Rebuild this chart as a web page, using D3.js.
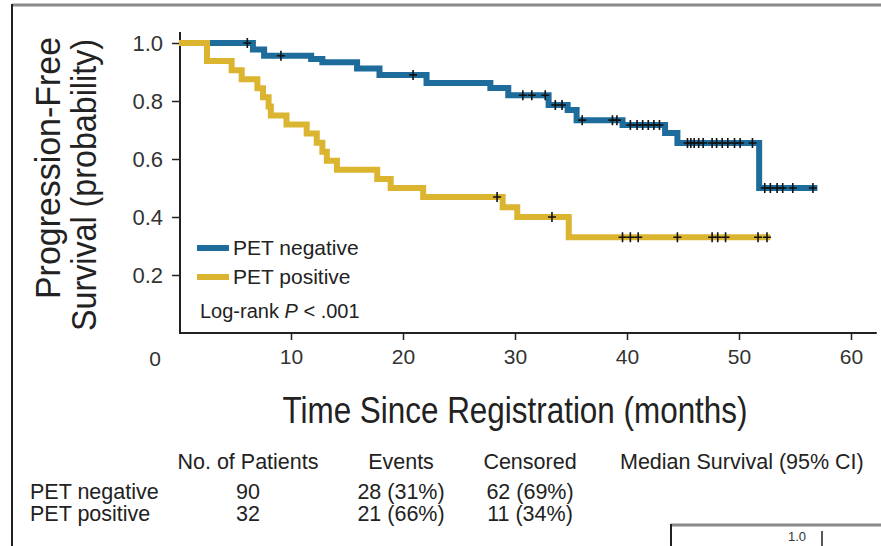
<!DOCTYPE html>
<html lang="en">
<head>
  <meta charset="UTF-8" />
  <title>Progression-Free Survival by PET status</title>
  <script src="https://cdn.jsdelivr.net/npm/d3@7"></script>
  <style>
    body { margin: 0; background: #fff; }
    svg { display: block; font-family: "Liberation Sans", Arial, sans-serif; }
    .tick text { fill: #333; }
  </style>
</head>
<body>
<svg width="881" height="546"></svg>

<script>
  // tick labels
  const monthTicks = [10, 20, 30, 40, 50, 60];
  const probTicks = [0.2, 0.4, 0.6, 0.8, 1.0];

  // PET negative step curve (time of drop in months, survival after drop)
  const negTimes = [0, 6.6, 7.6, 11.8, 12.8, 15.9, 17.9, 22.1, 27.8, 29.4, 33.0, 34.7, 35.5, 39.6, 43.4, 44.5, 51.8, 57.0];
  const negSurv  = [1.0, 0.978, 0.956, 0.945, 0.934, 0.912, 0.89, 0.862, 0.845, 0.82, 0.786, 0.769, 0.734, 0.717, 0.69, 0.655, 0.5, 0.5];
  const negCensored = [6.1, 9.1, 20.9, 30.7, 31.5, 32.7, 33.6, 34.2, 36.0, 38.7, 39.1, 40.3, 40.9, 41.4, 41.9, 42.4, 42.9,
    45.4, 45.7, 46.0, 46.4, 46.8, 47.6, 48.0, 48.5, 49.0, 49.6, 50.1, 51.2, 52.3, 52.8, 53.4, 53.9, 54.8, 56.6];

  // PET positive step curve
  const posTimes = [0, 2.5, 4.7, 5.6, 7.0, 7.5, 8.0, 8.2, 9.6, 11.4, 12.3, 12.8, 13.2, 14.1, 17.7, 18.9, 21.8, 28.9, 30.2, 34.8, 52.8];
  const posSurv  = [1.0, 0.938, 0.906, 0.875, 0.844, 0.813, 0.781, 0.75, 0.719, 0.688, 0.656, 0.625, 0.594, 0.563, 0.531, 0.5, 0.469, 0.434, 0.40, 0.33, 0.33];
  const posCensored = [28.4, 33.3, 39.6, 40.3, 41.0, 44.5, 47.6, 48.1, 48.8, 51.7, 52.5];

  // summary table
  const groups = ["PET negative", "PET positive"];
  const tableHeaders = ["No. of Patients", "Events", "Censored", "Median Survival (95% CI)"];
  const patients = ["90", "32"];
  const events = ["28 (31%)", "21 (66%)"];
  const censored = ["62 (69%)", "11 (34%)"];

  const colors = { neg: "#1d6c9b", pos: "#dcb530" };

  const svg = d3.select("svg");

  const x = d3.scaleLinear().domain([0, 60]).range([179, 851]);
  const y = d3.scaleLinear().domain([0, 1]).range([333, 43]);

  // outer frame
  svg.append("line").attr("x1", 12).attr("x2", 881).attr("y1", 5).attr("y2", 5)
    .attr("stroke", "#8a8a8a").attr("stroke-width", 3);
  svg.append("line").attr("x1", 12).attr("x2", 12).attr("y1", 4).attr("y2", 546)
    .attr("stroke", "#222").attr("stroke-width", 2);

  // axes
  const yAxis = svg.append("g")
    .attr("transform", `translate(${x(0) + 1},0)`)
    .call(d3.axisLeft(y).tickValues(probTicks).tickFormat(d3.format(".1f")).tickSize(8).tickPadding(9));
  yAxis.select(".domain").remove();
  yAxis.selectAll("line").attr("stroke", "#222").attr("stroke-width", 1.5);
  yAxis.selectAll("text").attr("font-size", 22).attr("font-family", "Liberation Sans, Arial, sans-serif");

  const xAxis = svg.append("g")
    .attr("transform", `translate(0,${y(0)})`)
    .call(d3.axisBottom(x).tickValues(monthTicks).tickSize(7).tickPadding(9));
  xAxis.select(".domain").remove();
  xAxis.selectAll("line").attr("stroke", "#222").attr("stroke-width", 1.5);
  xAxis.selectAll("text").attr("font-size", 21).attr("font-family", "Liberation Sans, Arial, sans-serif");

  svg.append("text").attr("x", 155).attr("y", y(0) + 33)
    .attr("text-anchor", "middle").attr("font-size", 21).attr("fill", "#333").text("0");

  svg.append("line").attr("x1", x(0) + 1).attr("x2", x(0) + 1).attr("y1", y(1.038)).attr("y2", y(0) + 1)
    .attr("stroke", "#222").attr("stroke-width", 2);
  svg.append("line").attr("x1", x(0)).attr("x2", x(62.3)).attr("y1", y(0)).attr("y2", y(0))
    .attr("stroke", "#222").attr("stroke-width", 2);

  // axis titles: condensed look, Liberation Sans squeezed to the original width
  svg.append("text")
    .attr("x", 515).attr("y", 423).attr("text-anchor", "middle")
    .attr("font-size", 36).attr("fill", "#222")
    .attr("textLength", 465).attr("lengthAdjust", "spacingAndGlyphs")
    .text("Time Since Registration (months)");

  const yTitle = svg.append("g").attr("transform", "rotate(-90)")
    .attr("fill", "#222").attr("font-size", 35);
  yTitle.append("text").attr("x", -168).attr("y", 60).attr("text-anchor", "middle")
    .attr("textLength", 262).attr("lengthAdjust", "spacingAndGlyphs").text("Progression-Free");
  yTitle.append("text").attr("x", -185).attr("y", 96).attr("text-anchor", "middle")
    .attr("textLength", 292).attr("lengthAdjust", "spacingAndGlyphs").text("Survival (probability)");

  // survival curves
  const step = d3.line().x(d => x(d[0])).y(d => y(d[1])).curve(d3.curveStepAfter);
  const survAt = (times, surv, t) => surv[d3.bisectRight(times, t) - 1];

  function drawCurve(times, surv, cens, color) {
    svg.append("path")
      .datum(d3.zip(times, surv))
      .attr("d", step)
      .attr("fill", "none")
      .attr("stroke", color)
      .attr("stroke-width", 6);

    svg.append("g").selectAll("path")
      .data(cens)
      .join("path")
      .attr("d", t => {
        const cx = x(t), cy = y(survAt(times, surv, t));
        return `M${cx - 4},${cy}H${cx + 4}M${cx},${cy - 5}V${cy + 5}`;
      })
      .attr("stroke", "#111")
      .attr("stroke-width", 1.6);
  }

  drawCurve(negTimes, negSurv, negCensored, colors.neg);
  drawCurve(posTimes, posSurv, posCensored, colors.pos);

  // legend
  const legend = svg.append("g").attr("font-size", 21).attr("fill", "#222");
  [["PET negative", colors.neg, 248], ["PET positive", colors.pos, 277]].forEach(([label, c, ly]) => {
    legend.append("line").attr("x1", 197).attr("x2", 229).attr("y1", ly).attr("y2", ly)
      .attr("stroke", c).attr("stroke-width", 6);
    legend.append("text").attr("x", 233).attr("y", ly + 7).text(label);
  });
  const lr = legend.append("text").attr("x", 200).attr("y", 318).attr("font-size", 20);
  lr.append("tspan").text("Log-rank ");
  lr.append("tspan").attr("font-style", "italic").text("P");
  lr.append("tspan").text(" < .001");

  // summary table
  const table = svg.append("g").attr("font-size", 21.5).attr("fill", "#222");
  const colX = [248, 401, 530];
  tableHeaders.forEach((h, i) => {
    table.append("text")
      .attr("x", i < 3 ? colX[i] : 620)
      .attr("y", 469)
      .attr("text-anchor", i < 3 ? "middle" : "start")
      .text(h);
  });
  groups.forEach((g, r) => {
    const ry = 499 + r * 22;
    table.append("text").attr("x", 30).attr("y", ry).text(g);
    [patients[r], events[r], censored[r]].forEach((v, i) => {
      table.append("text").attr("x", colX[i]).attr("y", ry).attr("text-anchor", "middle").text(v);
    });
  });

  // top of the next panel, cut by the page edge
  const inset = svg.append("g");
  inset.append("line").attr("x1", 671).attr("x2", 881).attr("y1", 525).attr("y2", 525)
    .attr("stroke", "#8a8a8a").attr("stroke-width", 3);
  inset.append("line").attr("x1", 671).attr("x2", 671).attr("y1", 524).attr("y2", 546)
    .attr("stroke", "#222").attr("stroke-width", 2);
  inset.append("line").attr("x1", 822).attr("x2", 822).attr("y1", 531).attr("y2", 546)
    .attr("stroke", "#222").attr("stroke-width", 1.5);
  inset.append("text").attr("x", 806).attr("y", 541).attr("text-anchor", "end")
    .attr("font-size", 13).attr("fill", "#333").text("1.0");
</script>
</body>
</html>
